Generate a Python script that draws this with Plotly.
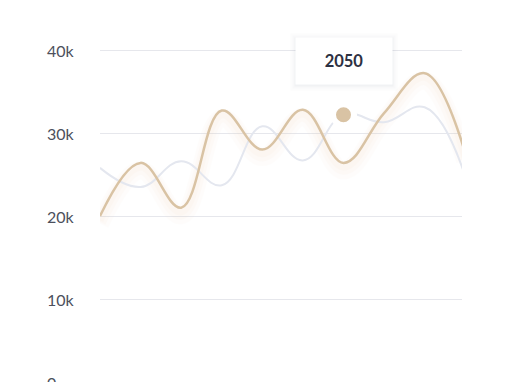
import plotly.graph_objects as go

x_idx = list(range(10))
tan_values = [20000, 26400, 21000, 32700, 28000, 32800, 26400, 32400, 37200, 27600]
gray_values = [25800, 23500, 26600, 23700, 30800, 26700, 32200, 31300, 33100, 24800]
y_ticks = [0, 10000, 20000, 30000, 40000]
y_labels = ["0", "10k", "20k", "30k", "40k"]
tooltip_index = 6
tooltip_label = "2050"

TAN = "#d9c3a4"
GRAY = "#e4e7ef"

fig = go.Figure()

# soft glow under tan line
for w, op, off in [(18, 0.045, 900), (12, 0.055, 700), (7, 0.06, 500)]:
    fig.add_trace(go.Scatter(
        x=x_idx, y=[v - off for v in tan_values], mode="lines",
        line=dict(color="#f3d2ad", width=w, shape="spline", smoothing=1.1),
        opacity=op, hoverinfo="skip", showlegend=False))

fig.add_trace(go.Scatter(
    x=x_idx, y=gray_values, mode="lines",
    line=dict(color=GRAY, width=2, shape="spline", smoothing=1.2),
    hoverinfo="skip", showlegend=False))

fig.add_trace(go.Scatter(
    x=x_idx, y=tan_values, mode="lines",
    line=dict(color=TAN, width=2.5, shape="spline", smoothing=1.1),
    hoverinfo="skip", showlegend=False))

fig.add_trace(go.Scatter(
    x=[x_idx[tooltip_index]], y=[gray_values[tooltip_index]], mode="markers",
    marker=dict(color=TAN, size=21, line=dict(color="white", width=6)),
    hoverinfo="skip", showlegend=False))

tx, ty = x_idx[tooltip_index], gray_values[tooltip_index]

# tooltip soft shadow layers + box
for pad_extra, alpha in [(5, 0.014), (3, 0.02), (1, 0.03)]:
    fig.add_annotation(
        x=tx, y=ty, text="", showarrow=False, yanchor="bottom",
        yshift=30 - pad_extra - 1,
        width=80 + 2 * pad_extra, height=30 + 2 * pad_extra,
        bgcolor="rgba(40,50,90,%s)" % alpha, borderpad=8)
fig.add_annotation(
    x=tx, y=ty, text="<b>" + tooltip_label + "</b>", showarrow=False,
    yanchor="bottom", yshift=30, width=80, height=30, bgcolor="white", borderpad=8,
    font=dict(family="Lato, sans-serif", size=16.5, color="#2d3142"))

# tooltip pointer
fig.add_shape(type="path", xref="x", yref="y", xsizemode="pixel", ysizemode="pixel",
              xanchor=tx, yanchor=ty, path="M -6 31 L 6 31 L 0 24 Z",
              fillcolor="white", line=dict(width=0), layer="above")

# left-aligned y tick labels
for v, lab in zip(y_ticks, y_labels):
    fig.add_annotation(
        xref="paper", x=0, xanchor="left", xshift=-55, yref="y", y=v,
        yanchor="middle", text=lab, showarrow=False,
        font=dict(family="Lato, sans-serif", size=16, color="#4c505c"))

fig.update_layout(
    width=510, height=382,
    margin=dict(l=92, r=56, t=12, b=0),
    paper_bgcolor="white", plot_bgcolor="white",
    xaxis=dict(range=[0, 8.92], showgrid=False, zeroline=False, showticklabels=False,
               showline=False, fixedrange=True),
    yaxis=dict(range=[-964, 43614], tickvals=y_ticks, showticklabels=False,
               showgrid=True, gridcolor="#e6e7ec", gridwidth=1, zeroline=False,
               showline=False, ticks="", fixedrange=True),
)

fig.write_html("out.html")
